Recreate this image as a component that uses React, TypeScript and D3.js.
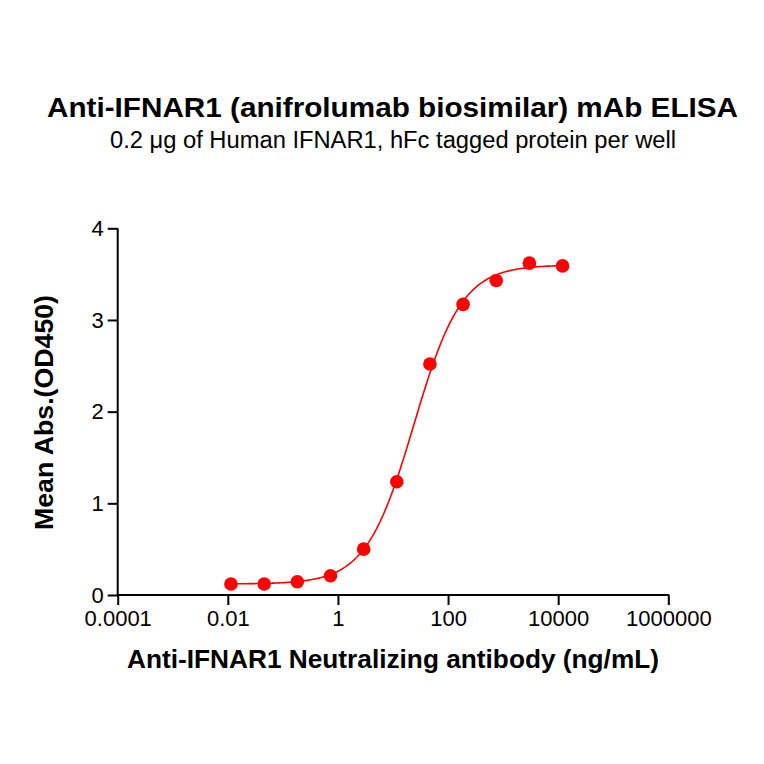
import React, { useEffect, useRef } from "react";
import * as d3 from "d3";

// concentrations (ng/mL), 4-fold dilution series
const concentrations = [0.0114, 0.0458, 0.183, 0.732, 2.93, 11.72, 46.88, 187.5, 750, 3000, 12000];
// mean absorbance at 450 nm
const meanAbs = [0.12, 0.12, 0.145, 0.21, 0.5, 1.236, 2.52, 3.17, 3.43, 3.62, 3.59];

// 4PL fit parameters
const fitBottom = 0.12;
const fitTop = 3.6;
const fitEC50 = 24;
const fitHill = 1.0;

const xTicks = [0.0001, 0.01, 1, 100, 10000, 1000000];
const xTickLabels = ["0.0001", "0.01", "1", "100", "10000", "1000000"];
const yTicks = [0, 1, 2, 3, 4];

const title = "Anti-IFNAR1 (anifrolumab biosimilar) mAb ELISA";
const subtitle = "0.2 \u03bcg of Human IFNAR1, hFc tagged protein per well";
const xTitle = "Anti-IFNAR1 Neutralizing antibody (ng/mL)";
const yTitle = "Mean Abs.(OD450)";

export default function App() {
    const svgRef = useRef(null);

    useEffect(() => {
        const svg = d3.select(svgRef.current);
        svg.selectAll("*").remove();

        const font = "'Liberation Sans', Arial, sans-serif";
        const red = "#ff0000";

        const x = d3.scaleLog().domain([0.0001, 1000000]).range([117.7, 668.3]);
        const y = d3.scaleLinear().domain([0, 4]).range([595, 228.3]);

        // titles
        svg.append("text")
            .attr("x", 392.5).attr("y", 116.5)
            .attr("text-anchor", "middle")
            .attr("textLength", 691).attr("lengthAdjust", "spacingAndGlyphs")
            .style("font-family", font).style("font-weight", "bold").style("font-size", "28px")
            .text(title);
        svg.append("text")
            .attr("x", 393).attr("y", 148.3)
            .attr("text-anchor", "middle")
            .attr("textLength", 566).attr("lengthAdjust", "spacingAndGlyphs")
            .style("font-family", font).style("font-size", "23px")
            .text(subtitle);

        // fitted curve
        const fourPL = (c) => fitBottom + (fitTop - fitBottom) / (1 + Math.pow(fitEC50 / c, fitHill));
        const lo = Math.log10(concentrations[0]);
        const hi = Math.log10(concentrations[concentrations.length - 1]);
        const curvePts = d3.range(0, 201).map(i => {
            const c = Math.pow(10, lo + (hi - lo) * i / 200);
            return [c, fourPL(c)];
        });
        const line = d3.line().x(d => x(d[0])).y(d => y(d[1]));
        svg.append("path")
            .datum(curvePts)
            .attr("d", line)
            .style("fill", "none")
            .style("stroke", red)
            .style("stroke-width", 1.6);

        // points
        svg.append("g").selectAll("circle")
            .data(concentrations.map((c, i) => [c, meanAbs[i]]))
            .enter().append("circle")
            .attr("cx", d => x(d[0]))
            .attr("cy", d => y(d[1]))
            .attr("r", 6.8)
            .style("fill", red);

        // x axis
        const xAxis = d3.axisBottom(x)
            .tickValues(xTicks)
            .tickFormat((d, i) => xTickLabels[i])
            .tickSize(10)
            .tickPadding(5)
            .tickSizeOuter(0);
        const gx = svg.append("g").attr("transform", "translate(0,595)").call(xAxis);
        gx.select(".domain").attr("d", "M116.7,0H669.3").style("stroke", "#000").style("stroke-width", 2);
        gx.selectAll(".tick line").style("stroke", "#000").style("stroke-width", 2);
        gx.selectAll(".tick text")
            .style("font-family", font).style("font-size", "22px").style("fill", "#000");

        // y axis
        const yAxis = d3.axisLeft(y)
            .tickValues(yTicks)
            .tickFormat(d3.format("d"))
            .tickSize(10)
            .tickPadding(4)
            .tickSizeOuter(0);
        const gy = svg.append("g").attr("transform", "translate(117.7,0)").call(yAxis);
        gy.select(".domain").attr("d", "M0,596V228.3").style("stroke", "#000").style("stroke-width", 2);
        gy.selectAll(".tick line").style("stroke", "#000").style("stroke-width", 2);
        gy.selectAll(".tick text")
            .style("font-family", font).style("font-size", "22px").style("fill", "#000");

        // axis titles
        svg.append("text")
            .attr("x", 393).attr("y", 668.3)
            .attr("text-anchor", "middle")
            .attr("textLength", 532).attr("lengthAdjust", "spacingAndGlyphs")
            .style("font-family", font).style("font-weight", "bold").style("font-size", "26px")
            .text(xTitle);
        svg.append("text")
            .attr("transform", "translate(53,412.5) rotate(-90)")
            .attr("text-anchor", "middle")
            .attr("textLength", 235).attr("lengthAdjust", "spacingAndGlyphs")
            .style("font-family", font).style("font-weight", "bold").style("font-size", "26px")
            .text(yTitle);
    }, []);

    return (
        <svg ref={svgRef} width={764} height={764}
            style={{ position: "absolute", left: 0, top: 0, background: "#fff" }} />
    );
}
